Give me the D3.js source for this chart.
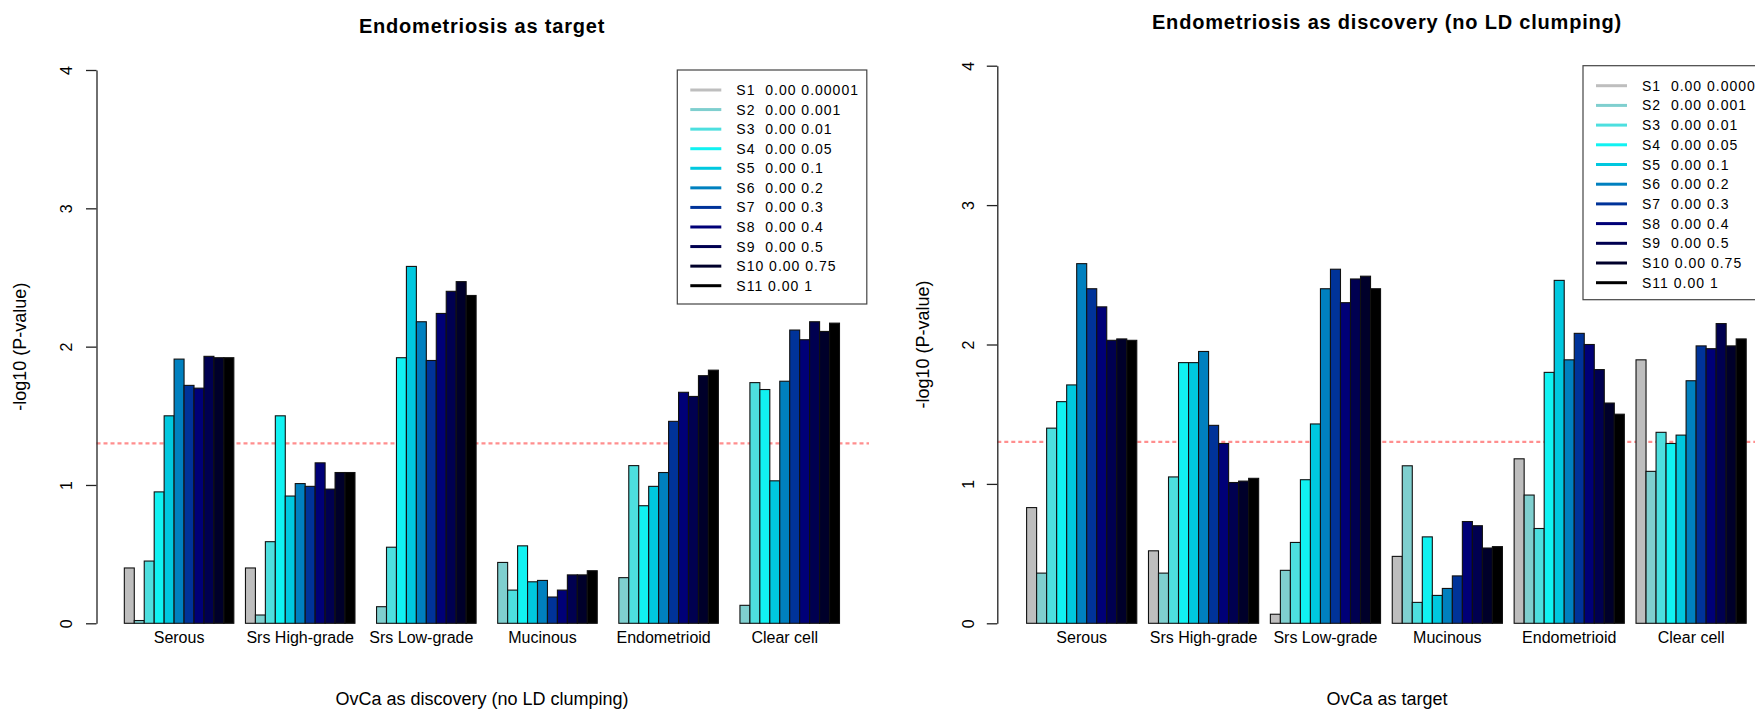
<!DOCTYPE html>
<html>
<head>
<meta charset="utf-8">
<script src="https://cdn.jsdelivr.net/npm/d3@7/dist/d3.min.js"></script>
<style>
  body { margin: 0; background: #fff; }
  text { font-family: "Liberation Sans", Arial, Helvetica, sans-serif; fill: #000; }
</style>
</head>
<body>
<script>

    // ---- data ----
    const categories = ['Serous', 'Srs High-grade', 'Srs Low-grade', 'Mucinous', 'Endometrioid', 'Clear cell'];
    const seriesNames = ['S1', 'S2', 'S3', 'S4', 'S5', 'S6', 'S7', 'S8', 'S9', 'S10', 'S11'];
    const legendLabels = [
        'S1  0.00 0.00001', 'S2  0.00 0.001', 'S3  0.00 0.01', 'S4  0.00 0.05',
        'S5  0.00 0.1', 'S6  0.00 0.2', 'S7  0.00 0.3', 'S8  0.00 0.4',
        'S9  0.00 0.5', 'S10 0.00 0.75', 'S11 0.00 1'
    ];
    const seriesColors = ['#bebebe', '#7fcfcf', '#4ddfdf', '#11f2f2', '#00c8df', '#0080bf',
                          '#003399', '#000077', '#000050', '#00002a', '#000000'];
    const yTicks = [0, 1, 2, 3, 4];
    const pThreshold = 0.05;

    // left panel: Endometriosis as target, OvCa as discovery
    const leftSerous = [0.40, 0.02, 0.45, 0.95, 1.50, 1.91, 1.72, 1.70, 1.93, 1.92, 1.92];
    const leftHighGrade = [0.40, 0.06, 0.59, 1.50, 0.92, 1.01, 0.99, 1.16, 0.97, 1.09, 1.09];
    const leftLowGrade = [0, 0.12, 0.55, 1.92, 2.58, 2.18, 1.90, 2.24, 2.40, 2.47, 2.37];
    const leftMucinous = [0, 0.44, 0.24, 0.56, 0.30, 0.31, 0.19, 0.24, 0.35, 0.35, 0.38];
    const leftEndometrioid = [0, 0.33, 1.14, 0.85, 0.99, 1.09, 1.46, 1.67, 1.64, 1.79, 1.83];
    const leftClearCell = [0, 0.13, 1.74, 1.69, 1.03, 1.75, 2.12, 2.05, 2.18, 2.11, 2.17];

    // right panel: Endometriosis as discovery, OvCa as target
    const rightSerous = [0.83, 0.36, 1.40, 1.59, 1.71, 2.58, 2.40, 2.27, 2.03, 2.04, 2.03];
    const rightHighGrade = [0.52, 0.36, 1.05, 1.87, 1.87, 1.95, 1.42, 1.29, 1.01, 1.02, 1.04];
    const rightLowGrade = [0.065, 0.38, 0.58, 1.03, 1.43, 2.40, 2.54, 2.30, 2.47, 2.49, 2.40];
    const rightMucinous = [0.48, 1.13, 0.15, 0.62, 0.20, 0.25, 0.34, 0.73, 0.70, 0.54, 0.55];
    const rightEndometrioid = [1.18, 0.92, 0.68, 1.80, 2.46, 1.89, 2.08, 2.00, 1.82, 1.58, 1.50];
    const rightClearCell = [1.89, 1.09, 1.37, 1.29, 1.35, 1.74, 1.99, 1.97, 2.15, 1.99, 2.04];

    const measurements = { width: 1755, height: 709 };

    // layout of the two R-style panels
    const panels = [
        {
            title: 'Endometriosis as target',
            xLabel: 'OvCa as discovery (no LD clumping)',
            values: [leftSerous, leftHighGrade, leftLowGrade, leftMucinous, leftEndometrioid, leftClearCell],
            axisX: 96.5, top: 70, bottom: 623.3, plotRight: 869,
            barStart: 112.7, barEnd: 839.5,
            titleX: 482, titleY: 33.3, xLabelY: 705, yLabelX: 25.5, tickLabelX: 72,
            legendX: 677.3, legendY: 70, legendRow: 19.57
        },
        {
            title: 'Endometriosis as discovery (no LD clumping)',
            xLabel: 'OvCa as target',
            values: [rightSerous, rightHighGrade, rightLowGrade, rightMucinous, rightEndometrioid, rightClearCell],
            axisX: 997.3, top: 65.7, bottom: 623.3, plotRight: 1778,
            barStart: 1014.9, barEnd: 1746.2,
            titleX: 1387, titleY: 29.3, xLabelY: 705, yLabelX: 929, tickLabelX: 974,
            legendX: 1583, legendY: 65.7, legendRow: 19.7
        }
    ];

    let svg = d3.select('body')
        .append('svg')
        .attr('width', measurements.width)
        .attr('height', measurements.height);

    svg.append('rect')
        .attr('width', measurements.width)
        .attr('height', measurements.height)
        .attr('fill', '#fff');

    panels.forEach(drawPanel);

    function drawPanel(p) {
        let g = svg.append('g');

        let y = d3.scaleLinear().domain([0, 4]).range([p.bottom, p.top]);

        // groups with one bar-width gap in front, like barplot(beside=TRUE)
        let x0 = d3.scaleBand()
            .domain(categories)
            .range([p.barStart, p.barEnd])
            .paddingInner(0.096)
            .paddingOuter(0.048)
            .align(1);
        let x1 = d3.scaleBand()
            .domain(seriesNames)
            .range([0, x0.bandwidth()]);

        // dotted line at p = 0.05
        let yThr = y(-Math.log10(pThreshold));
        g.append('line')
            .attr('x1', p.axisX)
            .attr('x2', p.plotRight)
            .attr('y1', yThr)
            .attr('y2', yThr)
            .attr('stroke', '#ff8e8e')
            .attr('stroke-width', 2.2)
            .attr('stroke-dasharray', '4,3');

        // bars
        g.selectAll('g.group')
            .data(p.values)
            .enter()
            .append('g')
            .attr('class', 'group')
            .attr('transform', (d, i) => 'translate(' + x0(categories[i]) + ',0)')
            .selectAll('rect')
            .data(d => d)
            .enter()
            .append('rect')
                .attr('x', (d, i) => x1(seriesNames[i]))
                .attr('y', d => y(d))
                .attr('width', x1.bandwidth())
                .attr('height', d => y(0) - y(d))
                .attr('fill', (d, i) => seriesColors[i])
                .attr('stroke', '#111')
                .attr('stroke-width', 1.1);

        // group names under the bars
        g.selectAll('text.cat')
            .data(categories)
            .enter()
            .append('text')
            .attr('class', 'cat')
            .attr('x', d => x0(d) + x0.bandwidth() / 2)
            .attr('y', 643)
            .attr('text-anchor', 'middle')
            .style('font-size', '16px')
            .text(d => d);

        // y axis
        let axis = d3.axisLeft(y)
            .tickValues(yTicks)
            .tickSize(10.5)
            .tickSizeOuter(0)
            .tickFormat(d3.format('d'));

        let ax = g.append('g')
            .attr('transform', 'translate(' + p.axisX + ',0)')
            .call(axis);
        ax.select('.domain').attr('stroke', '#222').attr('stroke-width', 1.3);
        ax.selectAll('.tick line').attr('stroke', '#222').attr('stroke-width', 1.3);
        ax.selectAll('.tick text')
            .attr('x', null)
            .attr('dy', null)
            .attr('text-anchor', 'middle')
            .attr('transform', 'translate(' + (p.tickLabelX - p.axisX) + ',0) rotate(-90)')
            .style('font-size', '16px');

        // titles
        g.append('text')
            .attr('x', p.titleX)
            .attr('y', p.titleY)
            .attr('text-anchor', 'middle')
            .style('font-size', '20px')
            .style('font-weight', 'bold')
            .style('letter-spacing', '0.8px')
            .text(p.title);

        g.append('text')
            .attr('x', p.titleX)
            .attr('y', p.xLabelY)
            .attr('text-anchor', 'middle')
            .style('font-size', '18px')
            .text(p.xLabel);

        g.append('text')
            .attr('transform', 'translate(' + p.yLabelX + ',' + (p.top + p.bottom) / 2 + ') rotate(-90)')
            .attr('text-anchor', 'middle')
            .style('font-size', '18px')
            .text('-log10 (P-value)');

        // legend
        let legend = g.append('g')
            .attr('transform', 'translate(' + p.legendX + ',' + p.legendY + ')');

        legend.append('rect')
            .attr('width', 189.5)
            .attr('height', 234)
            .attr('fill', '#fff')
            .attr('stroke', '#444')
            .attr('stroke-width', 1.2);

        let rows = legend.selectAll('g.row')
            .data(legendLabels)
            .enter()
            .append('g')
            .attr('class', 'row')
            .attr('transform', (d, i) => 'translate(0,' + (20 + i * p.legendRow) + ')');

        rows.append('line')
            .attr('x1', 13)
            .attr('x2', 44)
            .attr('stroke', (d, i) => seriesColors[i])
            .attr('stroke-width', 3);

        rows.append('text')
            .attr('x', 59)
            .attr('dy', '0.36em')
            .style('font-size', '14px')
            .style('letter-spacing', '1px')
            .style('white-space', 'pre')
            .text(d => d);
    }

</script>
</body>
</html>
